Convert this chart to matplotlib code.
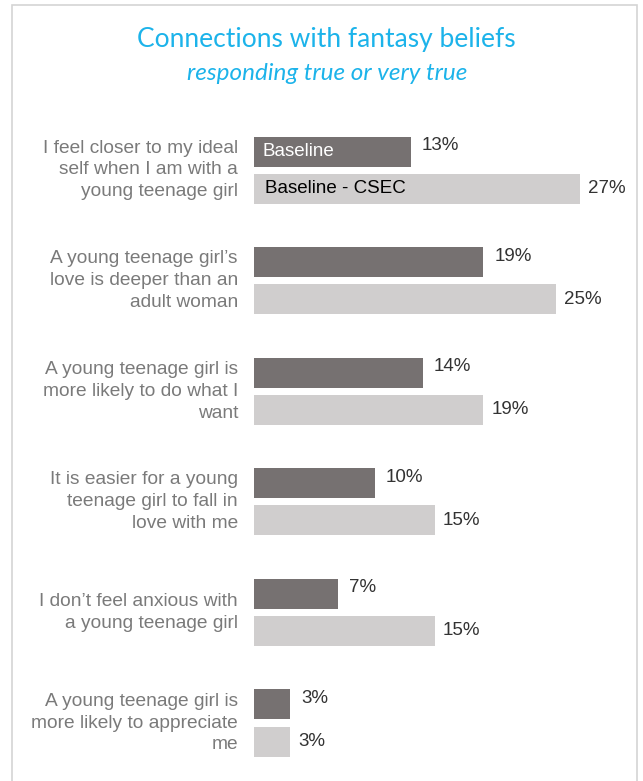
import matplotlib.pyplot as plt
from matplotlib.patches import Rectangle

statements = [
    "I feel closer to my ideal\nself when I am with a\nyoung teenage girl",
    "A young teenage girl\u2019s\nlove is deeper than an\nadult woman",
    "A young teenage girl is\nmore likely to do what I\nwant",
    "It is easier for a young\nteenage girl to fall in\nlove with me",
    "I don\u2019t feel anxious with\na young teenage girl",
    "A young teenage girl is\nmore likely to appreciate\nme",
]
baseline = [13, 19, 14, 10, 7, 3]
baseline_csec = [27, 25, 19, 15, 15, 3]
series_names = ["Baseline", "Baseline - CSEC"]

DARK = "#767171"
LIGHT = "#d0cece"
BLUE = "#1cb3ea"
FONT = "Liberation Sans"

W, H = 643, 781
fig = plt.figure(figsize=(W / 100, H / 100), dpi=100)

# thin frame round the panel
fig.patches.append(Rectangle((12 / W, -0.01), (637 - 12) / W, 1.01 - 5 / H,
                             transform=fig.transFigure, fill=False,
                             ec="#d4d4d4", lw=1.2))

fig.text(326 / W, 1 - 39 / H, "Connections with fantasy beliefs",
         ha="center", va="center", color=BLUE, fontsize=19,
         family="Lato")
fig.text(327 / W, 1 - 73 / H, "responding true or very true",
         ha="center", va="center", color=BLUE, fontsize=17.5,
         family="Lato", style="italic")

# axes placed in pixels: x=0% at 254px, 12.07 px per percent
px_per_pct = 12.07
ax_left = 254 / W
ax_w = 30 * px_per_pct / W
top_px = 120
group_px = 110.6
ax = fig.add_axes([ax_left, 0, ax_w, (H - top_px) / H])
ax.set_xlim(0, 30)
y_top = -(170 - top_px) / group_px
y_bot = (H - 170) / group_px
ax.set_ylim(y_bot, y_top)
ax.axis("off")

bh = 30 / group_px
off = 18.5 / group_px
ys = list(range(len(statements)))
ax.barh([y - off for y in ys], baseline, height=bh, color=DARK)
ax.barh([y + off for y in ys], baseline_csec, height=bh, color=LIGHT)

for y, a, b, s in zip(ys, baseline, baseline_csec, statements):
    ax.text(a + 11 / px_per_pct, y - off - 6 / group_px, f"{a}%",
            ha="left", va="center", fontsize=13.5, color="#333333",
            family=FONT)
    ax.text(b + 8 / px_per_pct, y + off, f"{b}%",
            ha="left", va="center", fontsize=13.5, color="#333333",
            family=FONT)
    ax.text(-16 / px_per_pct, y, s,
            ha="right", va="center", fontsize=13.8, color="#7a7a7a",
            family=FONT, linespacing=1.38)

# series names written inside the first pair of bars
ax.text(9 / px_per_pct, -off, series_names[0], ha="left", va="center",
        fontsize=13.5, color="white", family=FONT)
ax.text(11 / px_per_pct, off, series_names[1], ha="left", va="center",
        fontsize=13.5, color="black", family=FONT)

fig.savefig("out.png", dpi=100)
